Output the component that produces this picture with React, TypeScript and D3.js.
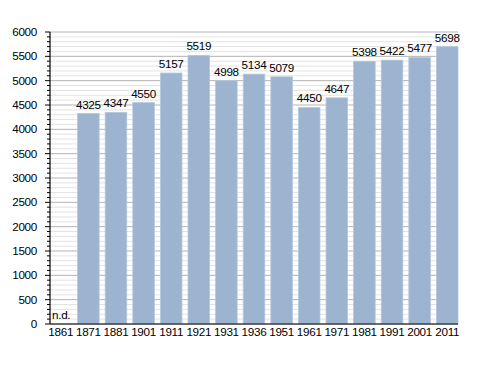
import React from 'react';
import { scaleBand, scaleLinear, range } from 'd3';

const years = ['1861', '1871', '1881', '1901', '1911', '1921', '1931', '1936', '1951', '1961', '1971', '1981', '1991', '2001', '2011'];
const population: (number | null)[] = [null, 4325, 4347, 4550, 5157, 5519, 4998, 5134, 5079, 4450, 4647, 5398, 5422, 5477, 5698];
const yTicks = [0, 500, 1000, 1500, 2000, 2500, 3000, 3500, 4000, 4500, 5000, 5500, 6000];

const W = 488;
const H = 373;
const left = 50;
const right = 458;
const top = 32;
const bottom = 324;

const App = () => {
  const x = scaleBand<string>().domain(years).range([left, right]).paddingInner(0.22).paddingOuter(0);
  const y = scaleLinear().domain([0, 6000]).range([bottom, top]);
  const minor = range(0, 6001, 100).filter(v => v % 500 !== 0);
  const font = 'Liberation Sans, Arial, sans-serif';
  const fs = 11.7;

  return (
    <svg width={W} height={H} style={{ position: 'absolute', left: 0, top: 0 }} fontFamily={font}>
      <rect width={W} height={H} fill="#fff" />
      {/* minor grid */}
      {minor.map(v => (
        <line key={'m' + v} x1={left} x2={right} y1={y(v)} y2={y(v)} stroke="#e3e3e3" strokeWidth={1} />
      ))}
      {yTicks.map(v => (
        <line key={'g' + v} x1={left} x2={right} y1={y(v)} y2={y(v)} stroke="#b4b4b4" strokeWidth={1} />
      ))}
      {/* bars */}
      {years.map((yr, i) => {
        const v = population[i];
        if (v == null) {
          return (
            <text key={yr} x={(x(yr) as number) + 2} y={bottom - 5} fontSize={fs} fill="#000" letterSpacing={-0.3}>n.d.</text>
          );
        }
        return (
          <g key={yr}>
            <rect x={x(yr)} y={y(v)} width={x.bandwidth()} height={bottom - y(v)} fill="#9cb4cf" stroke="#b3c6dc" strokeWidth={0.8} />
            <text x={(x(yr) as number) + x.bandwidth() / 2} y={y(v) - 5} textAnchor="middle" fontSize={fs} fill="#000" letterSpacing={-0.3}>{v}</text>
          </g>
        );
      })}
      {/* y axis */}
      <line x1={left} x2={left} y1={top} y2={bottom} stroke="#000" strokeWidth={1.2} />
      {minor.map(v => (
        <line key={'mt' + v} x1={left - 3} x2={left} y1={y(v)} y2={y(v)} stroke="#000" strokeWidth={1} />
      ))}
      {yTicks.map(v => (
        <g key={'t' + v}>
          <line x1={left - 5} x2={left} y1={y(v)} y2={y(v)} stroke="#000" strokeWidth={1} />
          <text x={left - 13} y={y(v) + 4} textAnchor="end" fontSize={fs} fill="#000" letterSpacing={-0.3}>{v}</text>
        </g>
      ))}
      {/* x axis */}
      <line x1={left} x2={right} y1={bottom} y2={bottom} stroke="#000" strokeWidth={1.2} />
      {years.map(yr => (
        <text key={'x' + yr} x={(x(yr) as number) + x.bandwidth() / 2} y={bottom + 12} textAnchor="middle" fontSize={fs} fill="#000" letterSpacing={-0.3}>{yr}</text>
      ))}
    </svg>
  );
};

export default App;
